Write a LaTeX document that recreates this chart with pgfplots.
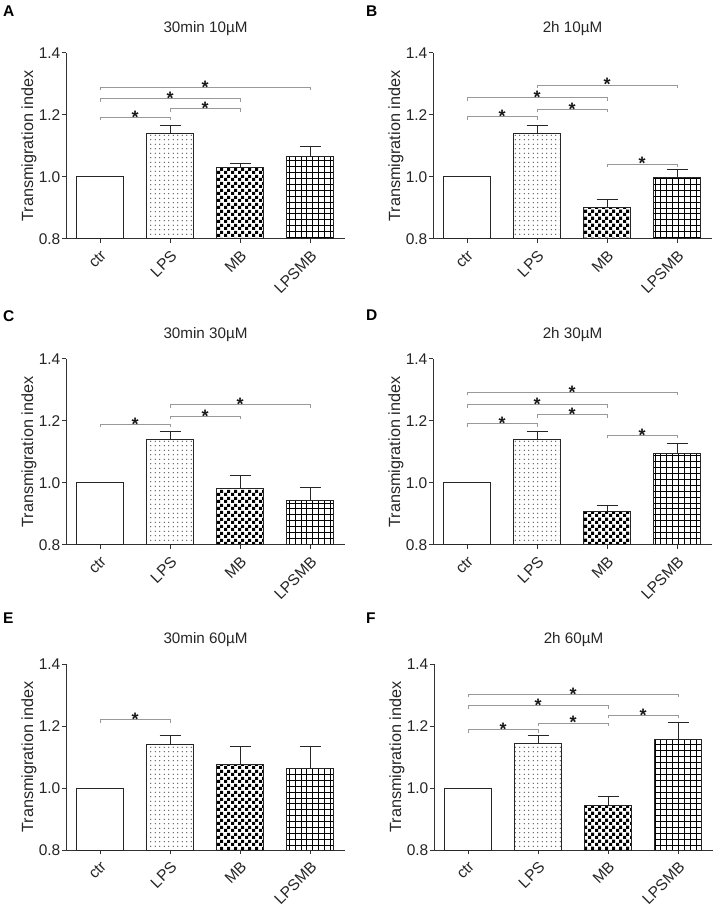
\documentclass[border=0pt]{standalone}
\usepackage{pgfplots}
\pgfplotsset{compat=1.18}
\usepackage{fontspec}
\setmainfont{Liberation Sans}
\usetikzlibrary{patterns}

\pgfdeclarepatternformonly{mydots}{\pgfqpoint{-1bp}{-1bp}}{\pgfqpoint{5.5bp}{5.5bp}}{\pgfqpoint{4.5bp}{4.5bp}}{%
  \pgfpathcircle{\pgfqpoint{2.25bp}{2.25bp}}{0.6bp}\pgfusepath{fill}}
\pgfdeclarepatternformonly{mycheck}{\pgfqpoint{0bp}{0bp}}{\pgfqpoint{7bp}{7bp}}{\pgfqpoint{7bp}{7bp}}{%
  \pgfpathrectangle{\pgfqpoint{0bp}{0bp}}{\pgfqpoint{3.5bp}{3.5bp}}%
  \pgfpathrectangle{\pgfqpoint{3.5bp}{3.5bp}}{\pgfqpoint{3.5bp}{3.5bp}}\pgfusepath{fill}}
\pgfdeclarepatternformonly{mygrid}{\pgfqpoint{-1bp}{-1bp}}{\pgfqpoint{7bp}{7bp}}{\pgfqpoint{5.9bp}{5.9bp}}{%
  \pgfsetlinewidth{0.8bp}%
  \pgfpathmoveto{\pgfqpoint{0bp}{-0.5bp}}\pgfpathlineto{\pgfqpoint{0bp}{6.4bp}}%
  \pgfpathmoveto{\pgfqpoint{-0.5bp}{0bp}}\pgfpathlineto{\pgfqpoint{6.4bp}{0bp}}\pgfusepath{stroke}}

\newcommand{\fs}{\fontsize{15.5bp}{17bp}\selectfont}
\newcommand{\fl}{\fontsize{16.2bp}{18bp}\selectfont}
\newcommand{\ft}{\fontsize{15.2bp}{17bp}\selectfont}

\pgfplotsset{
  panel/.style={
    width=279bp, height=186bp, scale only axis, anchor=south west,
    xmin=-0.486, xmax=3.5, ymin=0.8, ymax=1.4,
    axis x line*=bottom, axis y line*=left,
    axis line style={-, draw=black!80, line width=1bp},
    xtick={0,1,2,3}, xticklabels={ctr,LPS,MB,LPSMB},
    ytick={0.8,1.0,1.2,1.4},
    /pgf/number format/.cd, fixed, fixed zerofill, precision=1, assume math mode=true, /pgfplots/.cd,
    tick align=outside, major tick length=4bp,
    tick style={draw=black!80, line width=1bp},
    ticklabel style={font=\fs, text=black!85},
    yticklabel style={inner sep=1.5bp},
    xticklabel style={rotate=45, anchor=north east, inner sep=1bp},
    xticklabel shift=5bp,
    ylabel={Transmigration index},
    ylabel style={font=\fl, text=black!85, at={(axis description cs:-0.118,0.5)}, anchor=base},
    clip=false,
  },
  barst/.style={ybar, bar width=0.67, bar shift=0pt, draw=black!85, line width=1bp},
  errst/.style={error bars/.cd, y dir=plus, y explicit,
    error bar style={draw=black!85, line width=1bp},
    error mark options={rotate=90, mark size=10.5bp, line width=1bp, draw=black!85}},
}

\newcommand{\ttl}[1]{\node[anchor=base, inner sep=0, font=\ft, text=black!85] at ([yshift=20.5bp]rel axis cs:0.5,1) {#1};}
\newcommand{\bars}[6]{%
  \addplot[barst, fill=white] coordinates {(0,1)};
  \addplot[barst, pattern=mydots, pattern color=black!75, errst] coordinates {(1,#1) +- (0,#2)};
  \addplot[barst, pattern=mycheck, pattern color=black, errst] coordinates {(2,#3) +- (0,#4)};
  \addplot[barst, pattern=mygrid, pattern color=black, errst] coordinates {(3,#5) +- (0,#6)};
}
\newcommand{\br}[3]{%
  \draw[draw=black!40, line width=0.8bp] ([yshift=-3bp]axis cs:#1,#3) -- (axis cs:#1,#3)
     -- node[midway, anchor=base, yshift=-6bp, inner sep=0, font=\bfseries\fontsize{18bp}{18bp}\selectfont, text=black!90] {*}
     (axis cs:#2,#3) -- ([yshift=-3bp]axis cs:#2,#3);
}

\begin{document}
\begin{tikzpicture}
\path[use as bounding box] (0,0) rectangle (726bp,916bp);
\fill[white] (0,0) rectangle (726bp,916bp);
\tikzset{lett/.style={anchor=north west, inner sep=0, font=\bfseries\fontsize{15.5bp}{15.5bp}\selectfont}}
\node[lett] at (3bp,910bp) {A};
\node[lett] at (366bp,910bp) {B};
\node[lett] at (3bp,606bp) {C};
\node[lett] at (366bp,606bp) {D};
\node[lett] at (3bp,303bp) {E};
\node[lett] at (366bp,303bp) {F};

% A
\begin{axis}[panel, at={(66bp,677bp)}]
\bars{1.140}{0.027}{1.030}{0.014}{1.065}{0.033}
\ttl{30min 10µM}
\br{0}{1}{1.193}
\br{1}{2}{1.220}
\br{0}{2}{1.252}
\br{0}{3}{1.290}
\end{axis}

% B
\begin{axis}[panel, at={(433bp,677bp)}]
\bars{1.140}{0.027}{0.900}{0.028}{0.999}{0.025}
\ttl{2h 10µM}
\br{0}{1}{1.195}
\br{1}{2}{1.219}
\br{0}{2}{1.256}
\br{1}{3}{1.297}
\br{2}{3}{1.042}
\end{axis}

% C
\begin{axis}[panel, at={(66bp,371bp)}]
\bars{1.140}{0.027}{0.982}{0.043}{0.942}{0.045}
\ttl{30min 30µM}
\br{0}{1}{1.189}
\br{1}{2}{1.215}
\br{1}{3}{1.253}
\end{axis}

% D
\begin{axis}[panel, at={(433bp,371bp)}]
\bars{1.140}{0.027}{0.908}{0.020}{1.094}{0.035}
\ttl{2h 30µM}
\br{0}{1}{1.191}
\br{1}{2}{1.220}
\br{0}{2}{1.253}
\br{0}{3}{1.292}
\br{2}{3}{1.154}
\end{axis}

% E
\begin{axis}[panel, at={(66bp,66bp)}]
\bars{1.141}{0.027}{1.076}{0.059}{1.063}{0.072}
\ttl{30min 60µM}
\br{0}{1}{1.220}
\end{axis}

% F
\begin{axis}[panel, at={(434bp,66bp)}]
\bars{1.142}{0.027}{0.943}{0.030}{1.155}{0.056}
\ttl{2h 60µM}
\br{0}{1}{1.188}
\br{1}{2}{1.210}
\br{2}{3}{1.235}
\br{0}{2}{1.265}
\br{0}{3}{1.302}
\end{axis}
\end{tikzpicture}
\end{document}
